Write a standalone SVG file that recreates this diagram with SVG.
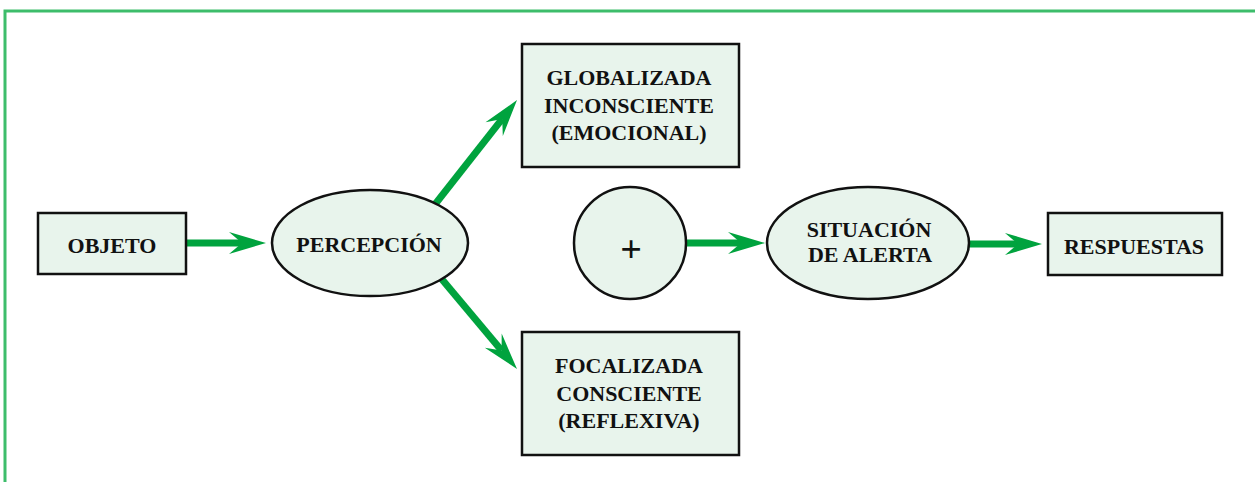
<svg xmlns="http://www.w3.org/2000/svg" width="1255" height="482" viewBox="0 0 1255 482">
<defs>
<style>
.node{fill:#e8f4ec;stroke:#111;stroke-width:2.5}
.lbl{font-family:"Liberation Serif","Times New Roman",serif;font-weight:bold;font-size:22px;fill:#111;text-anchor:middle}
.plus{font-family:"Liberation Serif","Times New Roman",serif;font-weight:bold;font-size:38px;fill:#111;text-anchor:middle}
.conn{stroke:#00a33e;stroke-width:7;fill:none}
</style>
<marker id="ah" markerUnits="userSpaceOnUse" markerWidth="40" markerHeight="24" viewBox="-38 -12 40 24" refX="-24" refY="0" orient="auto">
<path d="M0,0 L-37,-11 L-24,0 L-37,11 Z" fill="#00a33e"/>
</marker>
</defs>
<rect width="1255" height="482" fill="#fff"/>
<path d="M5,482 V11 H1255" fill="none" stroke="#3dbd6b" stroke-width="3"/>
<g id="connectors">
<line class="conn" x1="186" y1="243" x2="242" y2="243" marker-end="url(#ah)"/>
<line class="conn" x1="418" y1="226" x2="502.2" y2="118.9" marker-end="url(#ah)"/>
<line class="conn" x1="427" y1="261.6" x2="501.6" y2="350.6" marker-end="url(#ah)"/>
<line class="conn" x1="686" y1="243" x2="741" y2="243" marker-end="url(#ah)"/>
<line class="conn" x1="968" y1="244" x2="1018" y2="244" marker-end="url(#ah)"/>
</g>
<g id="objeto">
<rect class="node" x="38" y="213" width="148" height="61"/>
<text class="lbl" x="112" y="253">OBJETO</text>
</g>
<g id="percepcion">
<ellipse class="node" cx="370" cy="243" rx="98" ry="53"/>
<text class="lbl" x="369" y="252">PERCEPCIÓN</text>
</g>
<g id="globalizada">
<rect class="node" x="522" y="44" width="217" height="123"/>
<text class="lbl" x="629" y="85">GLOBALIZADA</text>
<text class="lbl" x="629" y="113">INCONSCIENTE</text>
<text class="lbl" x="629" y="140">(EMOCIONAL)</text>
</g>
<g id="focalizada">
<rect class="node" x="522" y="332" width="217" height="123"/>
<text class="lbl" x="629" y="373">FOCALIZADA</text>
<text class="lbl" x="629" y="401">CONSCIENTE</text>
<text class="lbl" x="629" y="428">(REFLEXIVA)</text>
</g>
<g id="suma">
<circle class="node" cx="630" cy="243" r="56"/>
<text class="plus" x="631" y="262">+</text>
</g>
<g id="situacion">
<ellipse class="node" cx="868" cy="243" rx="101" ry="56"/>
<text class="lbl" x="869" y="237">SITUACIÓN</text>
<text class="lbl" x="870" y="262">DE ALERTA</text>
</g>
<g id="respuestas">
<rect class="node" x="1048" y="213" width="174" height="62"/>
<text class="lbl" x="1134" y="254">RESPUESTAS</text>
</g>
</svg>
